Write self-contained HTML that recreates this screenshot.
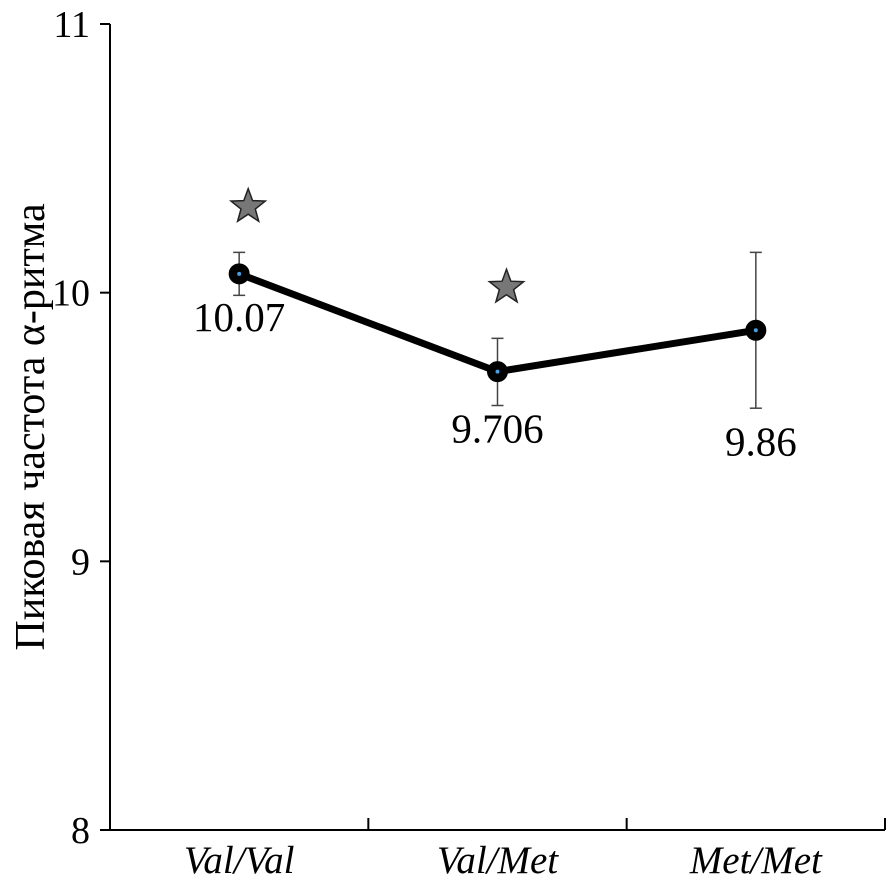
<!DOCTYPE html>
<html><head><meta charset="utf-8"><style>
html,body{margin:0;padding:0;background:#fff;}
svg{display:block;font-family:"Liberation Serif","Times New Roman",Times,serif;}
</style></head><body>
<svg id="chart" width="888" height="888" viewBox="0 0 888 888"></svg>
<script>
const categories = ["Val/Val","Val/Met","Met/Met"];
const values = [10.07, 9.706, 9.86];
const valueLabels = ["10.07","9.706","9.86"];
const errUpper = [10.15, 9.83, 10.15];
const errLower = [9.99, 9.58, 9.57];
const starHeights = [10.32, 10.02, null];
const yTicks = [8, 9, 10, 11];
const yTickLabels = ["8","9","10","11"];

const NS = "http://www.w3.org/2000/svg";
const svg = document.getElementById("chart");
const x0 = 110, x1 = 885, yTop = 24, yBot = 830;
const yMin = 8, yMax = 11;
const band = (x1 - x0) / categories.length;
function xs(i){ return x0 + band*(i+0.5); }
function ys(v){ return yBot - (v - yMin)/(yMax - yMin)*(yBot - yTop); }
function mk(tag, attrs, parent){
  const e = document.createElementNS(NS, tag);
  for (const k in attrs) e.setAttribute(k, attrs[k]);
  (parent||svg).appendChild(e);
  return e;
}
let e = mk("line",{x1:x0,y1:yTop,x2:x0,y2:yBot,stroke:"#000","stroke-width":2});


e = mk("line",{x1:x0,y1:yBot,x2:x1,y2:yBot,stroke:"#000","stroke-width":2});


yTicks.forEach((t,i)=>{
  const y = ys(t);
  let l = mk("line",{x1:x0-10,y1:y,x2:x0,y2:y,stroke:"#000","stroke-width":2});
  
  
  let tx = mk("text",{x:x0-20,y:y+13,"text-anchor":"end","font-size":38});
  tx.textContent = yTickLabels[i];
  
  
});
for (let i=1;i<=categories.length;i++){
  const x = x0 + band*i;
  let l = mk("line",{x1:x,y1:yBot-12,x2:x,y2:yBot,stroke:"#000","stroke-width":2});
  
  
}
categories.forEach((c,i)=>{
  let tx = mk("text",{x:xs(i),y:873,"text-anchor":"middle","font-size":39,"font-style":"italic"});
  tx.textContent = c;
  
  
});
let yl = mk("text",{x:0,y:0,"text-anchor":"middle","font-size":42,transform:"translate(44,427) rotate(-90)"});
yl.textContent = "Пиковая частота α-ритма";


categories.forEach((c,i)=>{
  const x = xs(i), a = ys(errUpper[i]), b = ys(errLower[i]);
  const g = mk("g",{stroke:"#444","stroke-width":1.5});
  
  
  mk("line",{x1:x,y1:a,x2:x,y2:b},g);
  mk("line",{x1:x-6,y1:a,x2:x+6,y2:a},g);
  mk("line",{x1:x-6,y1:b,x2:x+6,y2:b},g);
});
const pts = values.map((v,i)=>xs(i)+","+ys(v)).join(" ");
let pl = mk("polyline",{points:pts,fill:"none",stroke:"#000","stroke-width":7,"stroke-linejoin":"round"});


values.forEach((v,i)=>{
  let c = mk("circle",{cx:xs(i),cy:ys(v),r:8,fill:"#000",stroke:"#000","stroke-width":5});
  
  
  let d = mk("circle",{cx:xs(i),cy:ys(v),r:2,fill:"#4a9ee0"});
  
  
  let tx = mk("text",{x:xs(i)+(i===2?5:0),y:ys(v)+(i===0?57:(i===1?71:125)),"text-anchor":"middle","font-size":41});
  tx.textContent = valueLabels[i];
  
  
});
function starPath(cx,cy,R,r){
  let d="";
  for(let k=0;k<10;k++){
    const ang = -Math.PI/2 + k*Math.PI/5;
    const rad = k%2===0?R:r;
    d += (k?"L":"M")+(cx+rad*Math.cos(ang)).toFixed(1)+","+(cy+rad*Math.sin(ang)).toFixed(1);
  }
  return d+"Z";
}
starHeights.forEach((s,i)=>{
  if (s===null) return;
  let p = mk("path",{d:starPath(xs(i)+9,ys(s),18,7.5),fill:"#777",stroke:"#222","stroke-width":1.5});
  
  
});
</script>
</body></html>
